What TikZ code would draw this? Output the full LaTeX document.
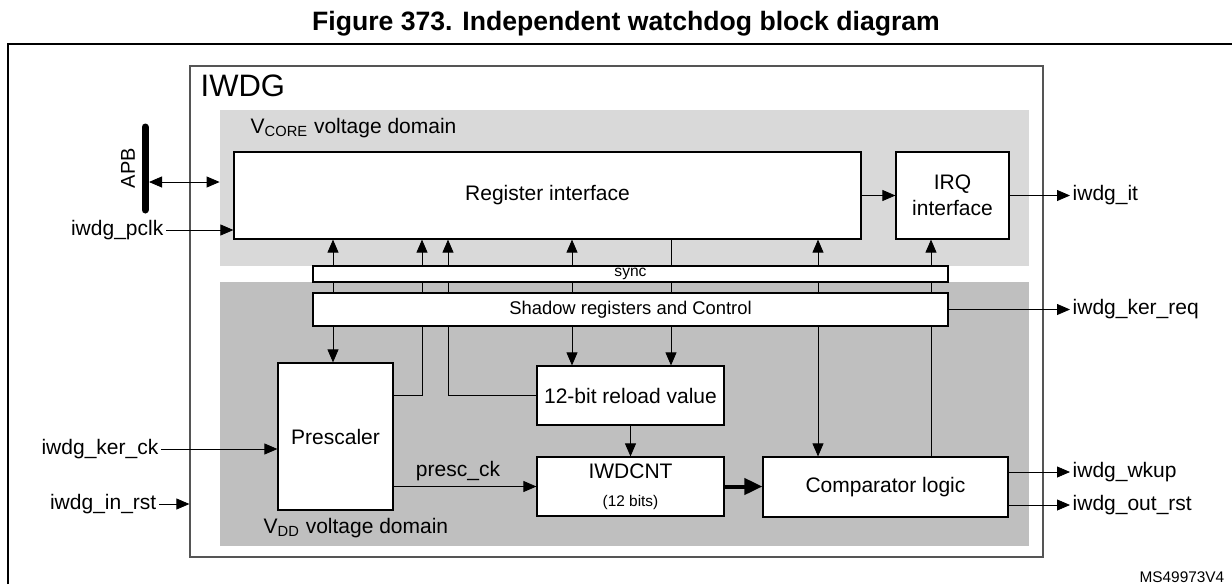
\documentclass[tikz,border=0pt]{standalone}
\usepackage{fontspec}
\setmainfont{Liberation Sans}
\usetikzlibrary{arrows.meta,positioning}
\pgfdeclarelayer{bg}
\pgfsetlayers{bg,main}
\definecolor{coregray}{RGB}{217,217,217}
\definecolor{ddgray}{RGB}{191,191,191}
\definecolor{edgegray}{RGB}{85,85,85}
\tikzset{
  blk/.style={draw, fill=white, line width=0.6pt, inner sep=0pt, align=center,
    font=\fontsize{10.5}{13}\selectfont},
  dom/.style={inner sep=0pt},
  lbl/.style={inner sep=1pt, font=\fontsize{10.5}{13}\selectfont},
  wire/.style={line width=0.7pt},
}

\begin{document}
\begin{tikzpicture}[x=0.5pt, y=-0.5pt, >={Triangle[length=6.5pt,width=5.5pt]}, wire]
  \useasboundingbox (0,0) rectangle (1232,584);
  \node[font=\bfseries\fontsize{13.3}{16}\selectfont] (title) at (626,24) {Figure 373. Independent watchdog block diagram};
  \draw[line width=1pt] (8,584) -- (8,44) -- (1232,44);

  \node[draw=edgegray, line width=0.6pt, minimum width=426.5pt, minimum height=245.5pt] (iwdg) at (616.5,311.5) {};
  \node[anchor=west, inner sep=0pt, font=\fontsize{15.5}{18}\selectfont] (iwdglbl) at (200,86) {IWDG};

  \node[blk, minimum width=313.5pt, minimum height=43.5pt] (reg) at (547.5,195.5) {Register interface};
  \node[blk, minimum width=56.5pt, minimum height=43.5pt] (irq) at (952.5,195.5) {IRQ\\interface};
  \node[blk, minimum width=317.5pt, minimum height=8pt, font=\fontsize{7.8}{8}\selectfont] (sync) at (630.5,274) {sync};
  \node[blk, minimum width=317.5pt, minimum height=16.5pt, font=\fontsize{9.2}{11}\selectfont] (shadow) at (630.5,309.5) {Shadow registers and Control};
  \node[blk, minimum width=57.5pt, minimum height=73.5pt] (presc) at (335.5,436.5) {Prescaler};
  \node[blk, minimum width=93.5pt, minimum height=29.5pt] (reload) at (630.5,395.5) {12-bit reload value};
  \node[blk, minimum width=93.5pt, minimum height=29.5pt] (cnt) at (630.5,486.5) {IWDCNT\\[1pt]{\fontsize{7.7}{9}\selectfont (12 bits)}};
  \node[blk, minimum width=122.5pt, minimum height=30pt] (cmp) at (885.5,487) {Comparator logic};

  \node[lbl, anchor=east] (pclk) at (166,230) {iwdg\_pclk};
  \node[lbl, anchor=east] (kerck) at (161,449) {iwdg\_ker\_ck};
  \node[lbl, anchor=east] (inrst) at (159,504) {iwdg\_in\_rst};
  \node[lbl, anchor=west] (it) at (1070,195.5) {iwdg\_it};
  \node[lbl, anchor=west] (kerreq) at (1070,309.5) {iwdg\_ker\_req};
  \node[lbl, anchor=west] (wkup) at (1070,472) {iwdg\_wkup};
  \node[lbl, anchor=west] (outrst) at (1070,505) {iwdg\_out\_rst};
  \node[lbl, rotate=90, font=\fontsize{10}{12}\selectfont] (apb) at (128,168) {APB};
  \node[lbl, anchor=west] (vcorelbl) at (248,128) {V\textsubscript{CORE} voltage domain};
  \node[lbl, anchor=west] (vddlbl) at (261,528) {V\textsubscript{DD} voltage domain};
  \node[lbl] (presclk) at (458,471) {presc\_ck};
  \node[lbl, anchor=east, font=\fontsize{7.7}{9}\selectfont] (msref) at (1227,577) {MS49973V4};

  \foreach \n/\x in {1/333,2/422,3/448,4/572,5/671,6/818,7/931}
    \coordinate (c\n) at (\x,0);

  \begin{pgfonlayer}{bg}
    \node[dom, fill=coregray, minimum width=404.5pt, minimum height=78pt] (vcore) at (624.5,188) {};
    \node[dom, fill=ddgray, minimum width=404.5pt, minimum height=132pt] (vdd) at (624.5,414) {};
    \foreach \c in {c1,c4,c6}
      \draw[->] (\c |- shadow.north) -- (\c |- reg.south);
    \draw[->] (c7 |- shadow.north) -- (c7 |- irq.south);
    \draw (c5 |- reg.south) -- (c5 |- shadow.north);
    \draw (c7 |- cmp.north) -- (c7 |- shadow.south);
    \draw[->] (c1 |- shadow.south) -- (c1 |- presc.north);
    \draw[->] (c4 |- shadow.south) -- (c4 |- reload.north);
    \draw[->] (c5 |- shadow.south) -- (c5 |- reload.north);
    \draw[->] (c6 |- shadow.south) -- (c6 |- cmp.north);
    \draw[->] (presc.east |- reload) -| (c2 |- reg.south);
    \draw[->] (reload.west) -| (c3 |- reg.south);
  \end{pgfonlayer}

  \coordinate (apbtop) at (145,127);
  \coordinate (apbbot) at (145,210);
  \coordinate (apbtap) at (149,182);
  \draw[line width=3.5pt, line cap=round] (apbtop) -- (apbbot);
  \draw[<->] (apbtap) -- (apbtap -| vcore.west);
  \draw[->] (pclk.east) -- (pclk -| reg.west);
  \draw[->] (reg.east) -- (irq.west);
  \draw[->] (irq.east) -- (it.west);
  \draw[->] (shadow.east) -- (kerreq.west);
  \draw[->] (reload) -- (cnt);
  \draw[->] (presc.east |- cnt) -- (cnt.west);
  \draw[line width=2pt, -{Triangle[length=9pt,width=8pt]}] (cnt.east) -- (cnt.east -| cmp.west);
  \draw[->] (cmp.east |- wkup) -- (wkup.west);
  \draw[->] (cmp.east |- outrst) -- (outrst.west);
  \draw[->] (kerck.east) -- (kerck -| presc.west);
  \draw[->] (inrst.east) -- (inrst -| iwdg.west);
\end{tikzpicture}
\end{document}
